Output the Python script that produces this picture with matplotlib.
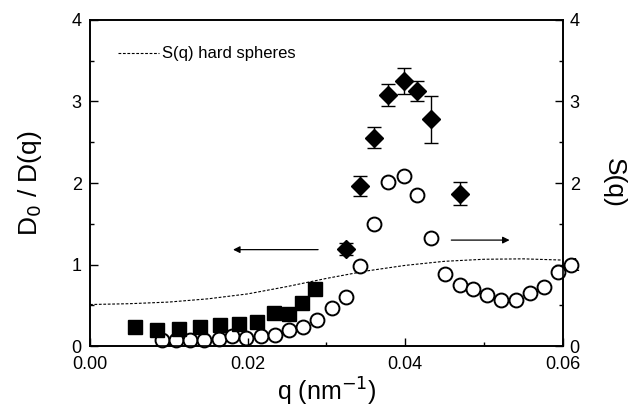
import numpy as np
import matplotlib
matplotlib.use("Agg")
import matplotlib.pyplot as plt
from matplotlib.ticker import MultipleLocator

plt.rcParams['font.family'] = ['Liberation Sans', 'DejaVu Sans']

# D0/D(q), small-q data (filled squares)
q_sq = [0.00575, 0.00853, 0.01125, 0.0140, 0.01653, 0.01894, 0.0212, 0.0233, 0.0253, 0.0269, 0.0285]
d_sq = [0.233, 0.20, 0.213, 0.24, 0.262, 0.274, 0.295, 0.405, 0.397, 0.528, 0.70]

# D0/D(q), large-q data with error bars (filled diamonds)
q_di = [0.0325, 0.0343, 0.0360, 0.0378, 0.0398, 0.0415, 0.0433, 0.0469]
d_di = [1.195, 1.96, 2.555, 3.08, 3.25, 3.13, 2.78, 1.87]
e_di = [0.075, 0.12, 0.13, 0.13, 0.16, 0.12, 0.29, 0.14]

# measured S(q) (open circles, right axis)
q_sq_meas = [0.00915, 0.0109, 0.01266, 0.0145, 0.01632, 0.01805, 0.0198, 0.02166, 0.02343, 0.0253,
             0.0270, 0.0288, 0.0307, 0.0325, 0.0343, 0.0360, 0.0378, 0.0398, 0.0415, 0.0433,
             0.0450, 0.0469, 0.0486, 0.0504, 0.0522, 0.0540, 0.0559, 0.0576, 0.0594, 0.0611]
s_meas = [0.07, 0.078, 0.078, 0.078, 0.086, 0.119, 0.10, 0.119, 0.139, 0.20,
          0.233, 0.323, 0.463, 0.60, 0.98, 1.50, 2.01, 2.08, 1.85, 1.32,
          0.89, 0.745, 0.70, 0.63, 0.57, 0.57, 0.655, 0.725, 0.91, 1.00]

# hard sphere S(q) curve (dashed)
q_hs = [0.0, 0.005, 0.01, 0.015, 0.02, 0.025, 0.03, 0.035, 0.04, 0.045, 0.05, 0.055, 0.06]
s_hs = [0.51, 0.52, 0.54, 0.58, 0.64, 0.73, 0.83, 0.92, 0.99, 1.04, 1.065, 1.07, 1.055]

fig = plt.figure(figsize=(6.41, 4.15), dpi=100)
ax = fig.add_axes([0.1404, 0.166, 0.7376, 0.786])
ax2 = ax.twinx()

ax2.plot(q_hs, s_hs, ls=(0, (2.5, 1.5)), color='black', lw=0.8)
ax2.plot(q_sq_meas, s_meas, 'o', ms=10, mfc='white', mec='black', mew=1.4, clip_on=False, zorder=3)

ax.plot(q_sq, d_sq, 's', ms=10, color='black', zorder=4)
ax.errorbar(q_di, d_di, yerr=e_di, fmt='D', ms=9.5, color='black', ecolor='black',
            elinewidth=1.0, capsize=5, capthick=1.0, zorder=5)

ax.set_zorder(ax2.get_zorder() + 1)
ax.patch.set_visible(False)

for a in (ax, ax2):
    a.set_xlim(0, 0.06)
    a.set_ylim(0, 4)
    a.yaxis.set_major_locator(MultipleLocator(1))
    a.yaxis.set_minor_locator(MultipleLocator(0.5))
    a.tick_params(axis='both', which='major', direction='in', length=6, width=1, labelsize=13)
    a.tick_params(axis='both', which='minor', direction='in', length=3, width=1)
    for sp in a.spines.values():
        sp.set_linewidth(1.2)

ax.xaxis.set_major_locator(MultipleLocator(0.02))
ax.xaxis.set_minor_locator(MultipleLocator(0.01))
ax.xaxis.set_major_formatter(plt.FuncFormatter(lambda v, p: f"{v:.2f}"))
ax.tick_params(axis='x', top=False, which='both', pad=7)
ax.tick_params(axis='y', pad=6)
ax2.tick_params(axis='y', pad=5)

ax.set_xlabel('q (nm$^{-1}$)', fontsize=18, labelpad=2)
ax.set_ylabel('D$_0$ / D(q)', fontsize=19, labelpad=20)
ax2.set_ylabel('S(q)', fontsize=19, rotation=-90, va='bottom', labelpad=16)

# legend for dashed curve
ax.plot([0.0036, 0.0087], [3.59, 3.59], ls=(0, (2.5, 1.5)), color='black', lw=0.8)
ax.text(0.0092, 3.59, 'S(q) hard spheres', fontsize=12, va='center', ha='left')

# arrows pointing to the axes
ax.annotate('', xy=(0.0178, 1.183), xytext=(0.0293, 1.183),
            arrowprops=dict(arrowstyle='-|>', color='black', lw=0.9, mutation_scale=10))
ax.annotate('', xy=(0.0536, 1.30), xytext=(0.0455, 1.30),
            arrowprops=dict(arrowstyle='-|>', color='black', lw=0.9, mutation_scale=10))

fig.savefig('out.png', dpi=100)
